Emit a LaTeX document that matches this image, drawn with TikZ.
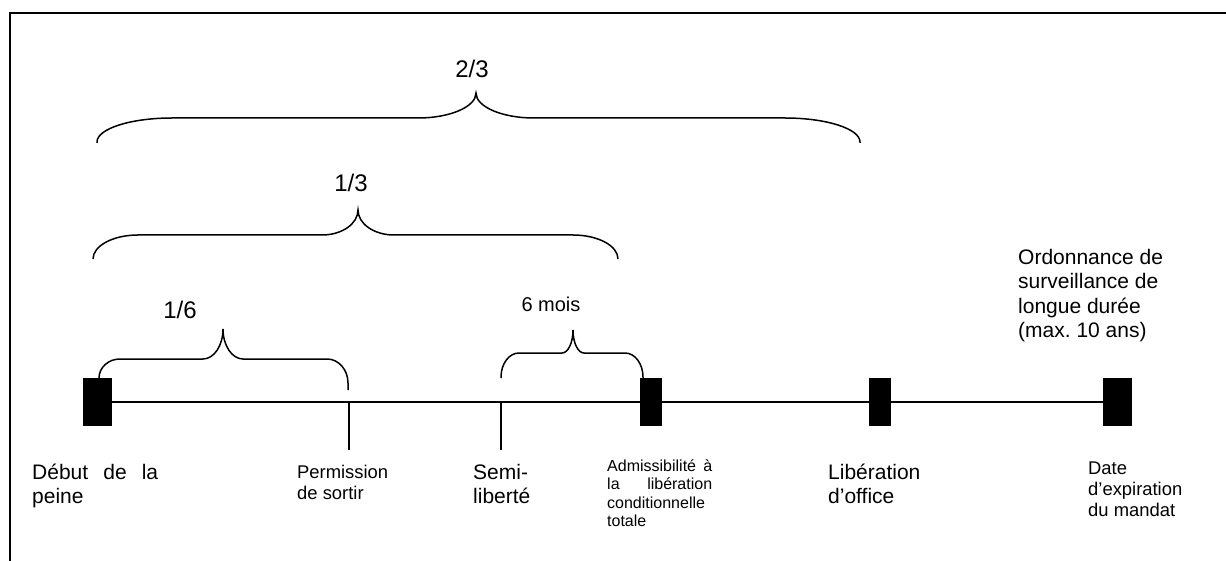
\documentclass[tikz,border=0pt]{standalone}
\usepackage{fontspec}
\setmainfont{Liberation Sans}
\frenchspacing
\newcommand\mybrace[9]{% x1 y1 x2 y2 h xt yt rc rm
  \pgfmathsetmacro\rvl{min(#2-#5,24)}%
  \pgfmathsetmacro\rvr{min(#4-#5,24)}%
  \draw[braceline] (#1,#2) -- (#1,#5+\rvl)
    .. controls (#1,#5+0.448*\rvl) and (#1+0.448*#8,#5) .. (#1+#8,#5)
    -- (#6-#9,#5)
    .. controls (#6-0.448*#9,#5) and (#6,#7+0.552*#5-0.552*#7) .. (#6,#7)
    .. controls (#6,#7+0.552*#5-0.552*#7) and (#6+0.448*#9,#5) .. (#6+#9,#5)
    -- (#3-#8,#5)
    .. controls (#3-0.448*#8,#5) and (#3,#5+0.448*\rvr) .. (#3,#5+\rvr)
    -- (#3,#4);%
}
\tikzset{
  braceline/.style={line width=1.5pt, line cap=butt},
  tline/.style={line width=1.5pt},
  frameline/.style={line width=2pt},
  blk/.style={fill=black, draw=none, inner sep=0pt},
  big/.style={font={\fontsize{21}{24.5}\selectfont}, inner sep=0pt, anchor=north west, align=left},
  med/.style={font={\fontsize{18.4}{21}\selectfont}, inner sep=0pt, anchor=north west, align=left},
  sml/.style={font={\fontsize{16}{18.5}\selectfont}, inner sep=0pt, anchor=north west, align=left},
  frac/.style={font={\fontsize{24}{28}\selectfont}, inner sep=0pt, anchor=base},
}
\begin{document}
\begin{tikzpicture}[x=1pt, y=-1pt]
\useasboundingbox (0,0) rectangle (1226,561);
% frame
\draw[frameline] (1226,13) -- (10,13) -- (10,561);
% blocks
\node[blk, minimum width=29pt, minimum height=48pt] (b1) at (97.5,402) {};
\node[blk, minimum width=22pt, minimum height=48pt] (b2) at (651,402) {};
\node[blk, minimum width=22pt, minimum height=48pt] (b3) at (880,402) {};
\node[blk, minimum width=29pt, minimum height=48pt] (b4) at (1117.5,402) {};
\coordinate (perm) at (349,402);
\coordinate (semi) at (501,402);
% timeline
\draw[tline] (b1.east) -- (b4.west);
\draw[tline] (perm) -- ++(0,48);
\draw[tline] (semi) -- ++(0,48);
% braces
\mybrace{97}{143}{860}{143}{118}{476}{93}{75}{58}
\mybrace{93}{259}{618}{259}{235}{358}{210}{45}{36}
\mybrace{99}{378}{348}{390}{359}{223}{329}{21}{20}
\mybrace{501}{378}{643}{378}{353}{573}{330}{18}{11}
% fraction labels
\node[frac] (l23) at (472,78) {2/3};
\node[frac] (l13) at (351,192) {1/3};
\node[frac] (l16) at (180,319) {1/6};
\node[frac, font={\fontsize{20}{24}\selectfont}] (l6m) at (551,312) {6 mois};
% texts
\node[big] (tdebut) at (32,461.85) {\strut\makebox[126pt][s]{Début de la}\\peine};
\node[med] (tperm) at (297,463.3) {\strut Permission\\de sortir};
\node[big] (tsemi) at (473,461.85) {\strut Semi-\\liberté};
\node[sml] (tadm) at (607,458.05) {\strut\makebox[105pt][s]{Admissibilité à}\\\makebox[105pt][s]{la libération}\\conditionnelle\\totale};
\node[big] (tlib) at (828,461.85) {\strut Libération\\d’office};
\node[med] (tdate) at (1088,459.3) {\strut Date\\d’expiration\\du mandat};
\node[big] (tord) at (1018,247) {\strut Ordonnance de\\surveillance de\\longue durée\\(max. 10 ans)};
\end{tikzpicture}
\end{document}
